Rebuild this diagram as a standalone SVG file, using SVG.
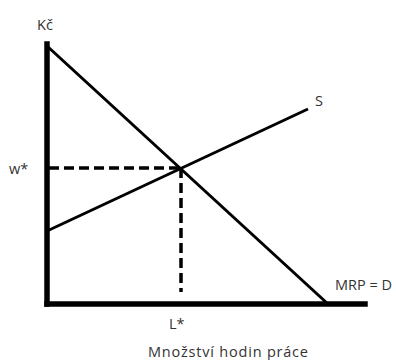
<svg xmlns="http://www.w3.org/2000/svg" width="396" height="360" viewBox="0 0 396 360">
<style>
.t{font-family:"Open Sans","Noto Sans",sans-serif;font-size:14.5px;fill:#333}
.ax{stroke:#000;stroke-width:5.5;stroke-linecap:square;fill:none}
.ln{stroke:#000;stroke-width:3;fill:none}
.ds{stroke:#000;stroke-width:3.5;stroke-dasharray:10,5;fill:none}
</style>
<rect width="396" height="360" fill="#fff"/>
<g id="axes">
<line class="ax" x1="47" y1="44" x2="47" y2="304"/>
<line class="ax" x1="47" y1="304" x2="365" y2="304"/>
</g>
<g id="connectors">
<line id="demand" class="ln" x1="47" y1="46" x2="328" y2="304"/>
<line id="supply" class="ln" x1="47" y1="231" x2="308" y2="109"/>
<line class="ds" x1="49" y1="168" x2="181" y2="168"/>
<line class="ds" x1="181" y1="168" x2="181" y2="292"/>
</g>
<g id="labels">
<text class="t" x="45" y="30" text-anchor="middle">Kč</text>
<text class="t" x="9" y="174">w*</text>
<text class="t" x="315" y="106">S</text>
<text class="t" x="335" y="290">MRP = D</text>
<text class="t" x="169" y="329">L*</text>
<text class="t" x="228" y="357" text-anchor="middle" textLength="160">Množství hodin práce</text>
</g>
</svg>
